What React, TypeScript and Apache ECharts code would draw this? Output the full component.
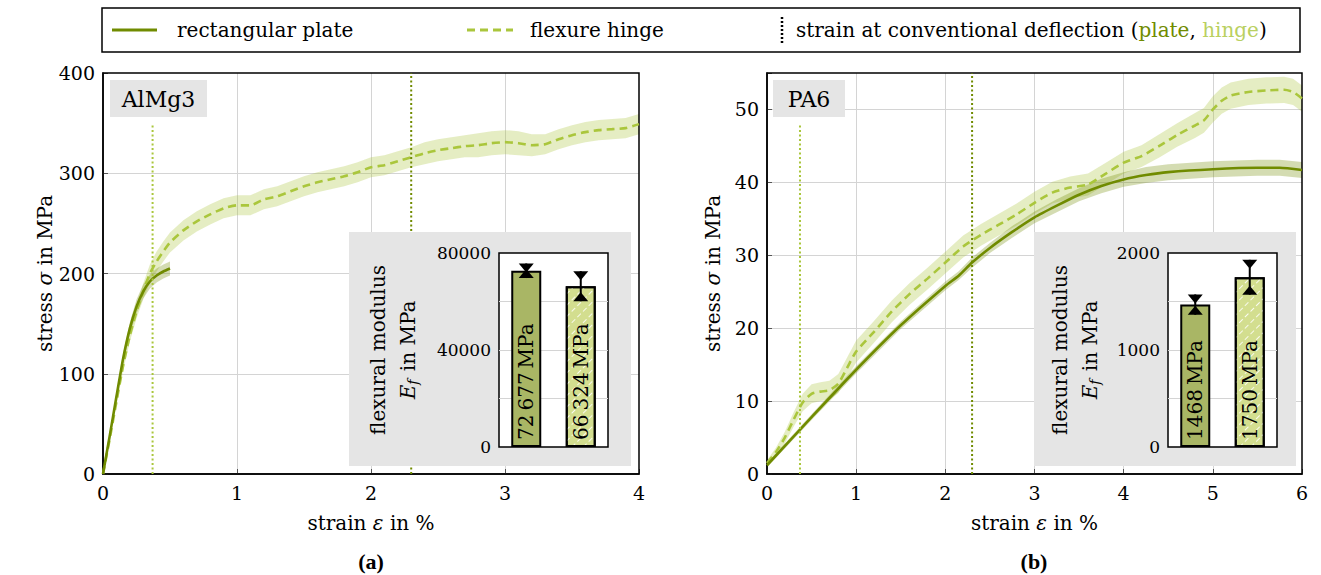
import React, { useEffect, useRef } from 'react';
import * as echarts from 'echarts';

// ---------- data ----------
// AlMg3 (panel a)
const alPlateStrain = [0, 0.05, 0.1, 0.15, 0.2, 0.25, 0.3, 0.35, 0.4, 0.45, 0.5];
const alPlateStress = [0, 38, 77, 115, 145, 167, 182, 192, 198, 202, 205];
const alPlateSd = [0, 3, 4, 5, 6, 7, 7, 7, 7, 7, 7];

const alHingeStrain = [0, 0.05, 0.1, 0.15, 0.2, 0.25, 0.3, 0.35, 0.4, 0.45, 0.5, 0.6, 0.7, 0.8, 0.9, 1.0, 1.1, 1.2, 1.3, 1.4, 1.5, 1.6, 1.7, 1.8, 1.9, 2.0, 2.1, 2.2, 2.3, 2.4, 2.5, 2.6, 2.7, 2.8, 2.9, 3.0, 3.1, 3.2, 3.3, 3.4, 3.5, 3.6, 3.7, 3.8, 3.9, 4.0];
const alHingeStress = [0, 35, 72, 108, 138, 162, 182, 200, 212, 222, 231, 243, 252, 259, 265, 268, 268, 274, 277, 282, 287, 291, 294, 297, 301, 306, 308, 312, 316, 320, 323, 325, 327, 328, 330, 331, 330, 328, 329, 334, 338, 341, 343, 344, 345, 349];
const alHingeSd = [0, 3, 4, 5, 6, 7, 8, 9, 10, 10, 10, 10, 10, 10, 10, 10, 10, 10, 10, 10, 10, 10, 10, 10, 10, 10, 10, 10, 10, 11, 11, 11, 11, 12, 12, 12, 12, 11, 10, 10, 10, 10, 10, 10, 10, 10];

// PA6 (panel b)
const paPlateStrain = [0, 0.5, 1, 1.5, 2, 2.15, 2.3, 2.5, 2.75, 3, 3.25, 3.5, 3.75, 4, 4.25, 4.5, 5, 5.5, 5.75, 6];
const paPlateStress = [1.2, 7.8, 14.3, 20.4, 25.8, 27.2, 29.0, 31.0, 33.2, 35.2, 36.8, 38.3, 39.5, 40.4, 41.0, 41.4, 41.8, 42.0, 42.0, 41.7];
const paPlateSd = [0.3, 0.4, 0.5, 0.5, 0.6, 0.6, 0.7, 0.7, 0.8, 0.8, 0.9, 0.9, 1.0, 1.0, 1.1, 1.1, 1.1, 1.1, 1.1, 1.1];

const paHingeStrain = [0, 0.1, 0.2, 0.3, 0.4, 0.5, 0.6, 0.7, 0.8, 0.9, 1.0, 1.2, 1.4, 1.6, 1.8, 2.0, 2.2, 2.4, 2.6, 2.8, 3.0, 3.2, 3.4, 3.6, 3.8, 4.0, 4.2, 4.4, 4.6, 4.8, 4.9, 5.0, 5.1, 5.2, 5.4, 5.6, 5.8, 5.9, 6.0];
const paHingeStress = [1.5, 3, 5, 7.5, 9.8, 11.0, 11.3, 11.5, 12.4, 14.6, 16.8, 19.5, 22.3, 24.7, 26.8, 29.0, 31.2, 32.8, 34.2, 35.6, 37.2, 38.6, 39.3, 39.7, 41.2, 42.7, 43.6, 45.0, 46.5, 47.8, 48.5, 50.0, 51.2, 51.9, 52.4, 52.6, 52.7, 52.4, 51.5];
const paHingeSd = [0.4, 0.6, 0.8, 1.0, 1.2, 1.3, 1.3, 1.3, 1.3, 1.4, 1.5, 1.5, 1.5, 1.5, 1.5, 1.5, 1.5, 1.5, 1.5, 1.5, 1.5, 1.5, 1.5, 1.5, 1.5, 1.5, 1.5, 1.6, 1.6, 1.7, 1.7, 1.8, 1.8, 1.8, 1.8, 1.8, 1.8, 1.8, 1.8];

// strain at conventional deflection [plate, hinge] and the height the hinge marker reaches
const convStrainAl = [2.3, 0.37];
const convStrainPa = [2.3, 0.37];
const convHingeTopAl = 350;
const convHingeTopPa = 48;

// flexural modulus insets
const modulusCategories = ['plate', 'hinge'];
const modulusAl = [72677, 66324];
const modulusAlErr = [3000, 6200];
const modulusPa = [1468, 1750];
const modulusPaErr = [105, 180];

const panelNames = ['AlMg3', 'PA6'];

// ---------- styles ----------
const SERIF = 'DejaVu Serif';
const PLATE = '#708b00';
const HINGE = '#aac63c';
const PLATE_BAND = 'rgba(112,139,0,0.30)';
const HINGE_BAND = 'rgba(170,198,60,0.31)';
const PLATE_BAR = '#a9b665';
const HINGE_BAR = '#d3de8f';
const GRIDLINE = '#d4d4d4';
const BOX_GRAY = '#e5e5e5';

const zip = (xs: number[], ys: number[]) => xs.map((x, i) => [x, ys[i]]);

function fmtMod(v: number) {
  const s = v >= 10000 ? String(v).replace(/\B(?=(\d{3})+(?!\d))/g, '\u2009') : String(v);
  return s + '\u2009MPa';
}

function bandSeries(gi: number, xs: number[], ys: number[], sd: number[], color: string) {
  return {
    type: 'custom', xAxisIndex: gi, yAxisIndex: gi, z: 2, silent: true,
    data: xs.map((x, i) => [x, ys[i] - sd[i], ys[i] + sd[i]]),
    encode: { x: 0, y: [1, 2] },
    renderItem: (params: any, api: any) => {
      if (params.dataIndex !== 0) return null;
      const upper = xs.map((x, i) => api.coord([x, ys[i] + sd[i]]));
      const lower = xs.map((x, i) => api.coord([x, ys[i] - sd[i]])).reverse();
      return { type: 'polygon', shape: { points: upper.concat(lower) }, style: { fill: color } };
    },
  };
}

function curve(gi: number, xs: number[], ys: number[], color: string, dashed: boolean) {
  return {
    type: 'line', xAxisIndex: gi, yAxisIndex: gi, data: zip(xs, ys), symbol: 'none', smooth: 0.2,
    lineStyle: { color, width: 2.6, type: dashed ? [8, 5] : 'solid' }, z: 3,
  };
}

function vline(gi: number, x: number, top: number, color: string) {
  return {
    type: 'line', xAxisIndex: gi, yAxisIndex: gi, data: [[x, 0], [x, top]], symbol: 'none',
    lineStyle: { color, width: 2, type: [2, 2.5] }, z: 4,
  };
}

function errorSeries(gi: number, vals: number[], errs: number[]) {
  return {
    type: 'custom', xAxisIndex: gi, yAxisIndex: gi, z: 14,
    data: vals.map((v, i) => [i, v - errs[i], v + errs[i]]),
    encode: { x: 0, y: [1, 2] },
    renderItem: (params: any, api: any) => {
      const x = api.value(0);
      const lo = api.coord([x, api.value(1)]);
      const hi = api.coord([x, api.value(2)]);
      return {
        type: 'group',
        children: [
          { type: 'line', shape: { x1: lo[0], y1: lo[1], x2: hi[0], y2: hi[1] }, style: { stroke: '#000', lineWidth: 2 } },
          { type: 'polygon', shape: { points: [[hi[0] - 7.5, hi[1]], [hi[0] + 7.5, hi[1]], [hi[0], hi[1] + 9]] }, style: { fill: '#000' } },
          { type: 'polygon', shape: { points: [[lo[0] - 7.5, lo[1]], [lo[0] + 7.5, lo[1]], [lo[0], lo[1] - 9]] }, style: { fill: '#000' } },
        ],
      };
    },
  };
}

function barSeries(gi: number, vals: number[]) {
  return {
    type: 'bar', xAxisIndex: gi, yAxisIndex: gi, barWidth: 30, z: 13,
    data: vals.map((v, i) => ({
      value: v,
      itemStyle: i === 0
        ? { color: PLATE_BAR }
        : {
            color: HINGE_BAR,
            decal: {
              symbol: 'rect', symbolSize: 1, color: 'rgba(255,255,255,0.85)',
              dashArrayX: [[5, 3]], dashArrayY: [1, 7], rotation: -Math.PI / 4,
            },
          },
    })),
    itemStyle: { borderColor: '#000', borderWidth: 2 },
    label: {
      show: true, position: 'insideBottom', distance: 7, rotate: 90, align: 'left', verticalAlign: 'middle',
      fontFamily: SERIF, fontSize: 20, color: '#000',
      formatter: (p: any) => fmtMod(p.value),
    },
  };
}

const mainNameRich = {
  t: { fontFamily: SERIF, fontSize: 20, color: '#000' },
  i: { fontFamily: SERIF, fontSize: 20, fontStyle: 'italic', color: '#000' },
};

function mainX(gi: number, max: number) {
  return {
    gridIndex: gi, type: 'value', min: 0, max, interval: 1,
    name: '{t|strain }{i|ε}{t| in %}', nameLocation: 'middle', nameGap: 39,
    nameTextStyle: { fontFamily: SERIF, rich: mainNameRich },
    axisLine: { show: true, lineStyle: { color: '#000', width: 1.5 } },
    axisTick: { show: true, inside: true, length: 5, lineStyle: { color: '#555', width: 1 } },
    axisLabel: { fontFamily: SERIF, fontSize: 19, color: '#000', margin: 9 },
    splitLine: { show: true, showMinLine: false, showMaxLine: false, lineStyle: { color: GRIDLINE, width: 1 } },
  };
}

function mainY(gi: number, max: number, interval: number) {
  return {
    gridIndex: gi, type: 'value', min: 0, max, interval,
    name: '{t|stress }{i|σ}{t| in MPa}', nameLocation: 'middle', nameGap: 44, nameRotate: 90,
    nameTextStyle: { fontFamily: SERIF, rich: mainNameRich },
    axisLine: { show: true, lineStyle: { color: '#000', width: 1.5 } },
    axisTick: { show: true, inside: true, length: 5, lineStyle: { color: '#555', width: 1 } },
    axisLabel: {
      fontFamily: SERIF, fontSize: 19, color: '#000', margin: 8,
      formatter: (v: number) => (v % interval === 0 ? String(v) : ''),
    },
    splitLine: { show: true, showMinLine: false, showMaxLine: false, lineStyle: { color: GRIDLINE, width: 1 } },
  };
}

function insetX(gi: number) {
  return {
    gridIndex: gi, type: 'category', data: modulusCategories, z: 12,
    axisLine: { show: false }, axisTick: { show: false }, axisLabel: { show: false }, splitLine: { show: false },
  };
}

function insetY(gi: number, max: number, interval: number, labelEvery: number, gap: number) {
  return {
    gridIndex: gi, type: 'value', min: 0, max, interval, z: 12,
    name: '{t|flexural modulus}\n{i|E}{s|f}{t| in MPa}', nameLocation: 'middle', nameRotate: 90, nameGap: gap,
    nameTextStyle: {
      fontFamily: SERIF,
      rich: {
        t: { fontFamily: SERIF, fontSize: 20, color: '#000', lineHeight: 30 },
        i: { fontFamily: SERIF, fontSize: 20, fontStyle: 'italic', color: '#000', lineHeight: 30 },
        s: { fontFamily: SERIF, fontSize: 14, fontStyle: 'italic', color: '#000', lineHeight: 30, padding: [10, 2, 0, 0] },
      },
    },
    axisLine: { show: false }, axisTick: { show: false },
    axisLabel: {
      fontFamily: SERIF, fontSize: 17, color: '#000', margin: 8,
      formatter: (v: number) => (v % labelEvery === 0 ? String(v) : ''),
    },
    splitLine: { show: true, showMinLine: false, showMaxLine: false, lineStyle: { color: GRIDLINE, width: 1 } },
  };
}

function textEl(x: number, y: number, text: string, extra: any = {}) {
  return {
    type: 'text', x, y, z: 20,
    style: { text, fontFamily: SERIF, fontSize: 20, fill: '#000', verticalAlign: 'middle', align: 'left', ...extra },
  };
}

export default function App() {
  const ref = useRef<HTMLDivElement>(null);
  useEffect(() => {
    if (!ref.current) return;
    const chart = echarts.init(ref.current, undefined, { renderer: 'svg' });
    const option: any = {
      animation: false,
      backgroundColor: '#fff',
      textStyle: { fontFamily: SERIF },
      grid: [
        { left: 103, top: 73, width: 536, height: 401, show: true, borderColor: '#000', borderWidth: 1.5, z: 3 },
        { left: 767, top: 73, width: 535, height: 401, show: true, borderColor: '#000', borderWidth: 1.5, z: 3 },
        { left: 499, top: 253, width: 109, height: 194, show: true, backgroundColor: '#fff', borderColor: '#000', borderWidth: 1.5, z: 11 },
        { left: 1168, top: 253, width: 109, height: 194, show: true, backgroundColor: '#fff', borderColor: '#000', borderWidth: 1.5, z: 11 },
      ],
      xAxis: [mainX(0, 4), mainX(1, 6), insetX(2), insetX(3)],
      yAxis: [
        mainY(0, 400, 100),
        mainY(1, 55, 10),
        insetY(2, 80000, 20000, 40000, 76),
        insetY(3, 2000, 500, 1000, 63),
      ],
      series: [
        bandSeries(0, alHingeStrain, alHingeStress, alHingeSd, HINGE_BAND),
        bandSeries(0, alPlateStrain, alPlateStress, alPlateSd, PLATE_BAND),
        curve(0, alHingeStrain, alHingeStress, HINGE, true),
        curve(0, alPlateStrain, alPlateStress, PLATE, false),
        vline(0, convStrainAl[0], 400, PLATE),
        vline(0, convStrainAl[1], convHingeTopAl, HINGE),
        bandSeries(1, paHingeStrain, paHingeStress, paHingeSd, HINGE_BAND),
        bandSeries(1, paPlateStrain, paPlateStress, paPlateSd, PLATE_BAND),
        curve(1, paHingeStrain, paHingeStress, HINGE, true),
        curve(1, paPlateStrain, paPlateStress, PLATE, false),
        vline(1, convStrainPa[0], 55, PLATE),
        vline(1, convStrainPa[1], convHingeTopPa, HINGE),
        barSeries(2, modulusAl),
        errorSeries(2, modulusAl, modulusAlErr),
        barSeries(3, modulusPa),
        errorSeries(3, modulusPa, modulusPaErr),
      ],
      graphic: [
        // inset background boxes
        { type: 'rect', z: 10, shape: { x: 349, y: 232, width: 282, height: 234 }, style: { fill: BOX_GRAY } },
        { type: 'rect', z: 10, shape: { x: 1034, y: 232, width: 262, height: 234 }, style: { fill: BOX_GRAY } },
        // panel name boxes
        { type: 'rect', z: 10, shape: { x: 110, y: 80, width: 97, height: 37 }, style: { fill: BOX_GRAY } },
        textEl(158.5, 99, panelNames[0], { align: 'center', fontSize: 22 }),
        { type: 'rect', z: 10, shape: { x: 773, y: 80, width: 72, height: 37 }, style: { fill: BOX_GRAY } },
        textEl(809, 99, panelNames[1], { align: 'center', fontSize: 22 }),
        // legend
        { type: 'rect', z: 19, shape: { x: 102, y: 8, width: 1198, height: 44 }, style: { fill: '#fff', stroke: '#000', lineWidth: 1.5 } },
        { type: 'line', z: 20, shape: { x1: 112, y1: 30, x2: 157, y2: 30 }, style: { stroke: PLATE, lineWidth: 3 } },
        textEl(177, 30, 'rectangular plate'),
        { type: 'line', z: 20, shape: { x1: 467, y1: 30, x2: 513, y2: 30 }, style: { stroke: HINGE, lineWidth: 3, lineDash: [8, 5] } },
        textEl(530, 30, 'flexure hinge'),
        { type: 'line', z: 20, shape: { x1: 782, y1: 17, x2: 782, y2: 43 }, style: { stroke: '#000', lineWidth: 2.5, lineDash: [2, 2] } },
        {
          type: 'text', x: 796, y: 30, z: 20,
          style: {
            text: '{a|strain at conventional deflection (}{p|plate}{a|, }{h|hinge}{a|)}',
            verticalAlign: 'middle', align: 'left', fontFamily: SERIF, fontSize: 20,
            rich: {
              a: { fontFamily: SERIF, fontSize: 20, fill: '#000', color: '#000' },
              p: { fontFamily: SERIF, fontSize: 20, fill: PLATE, color: PLATE },
              h: { fontFamily: SERIF, fontSize: 20, fill: '#b9d060', color: '#b9d060' },
            },
          },
        },
        // panel captions
        textEl(371, 561, '(a)', { align: 'center', fontFamily: 'Liberation Serif', fontWeight: 'bold', fontSize: 22 }),
        textEl(1034, 561, '(b)', { align: 'center', fontFamily: 'Liberation Serif', fontWeight: 'bold', fontSize: 22 }),
      ],
    };
    chart.setOption(option);
    return () => chart.dispose();
  }, []);
  return <div ref={ref} style={{ position: 'absolute', left: 0, top: 0, width: 1321, height: 575 }} />;
}
